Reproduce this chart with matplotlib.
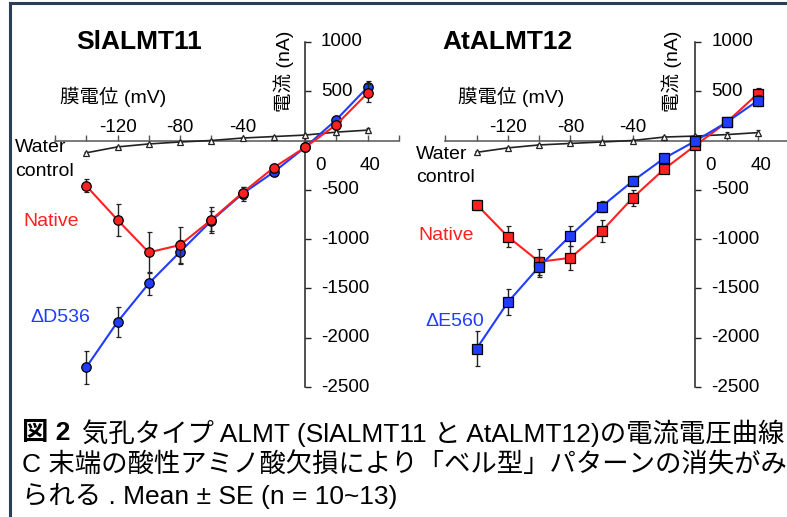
import matplotlib
matplotlib.use("Agg")
from matplotlib import pyplot as plt
from matplotlib import transforms
from matplotlib.lines import Line2D

plt.rcParams['font.family'] = ['Liberation Sans', 'Noto Sans CJK JP']

W, H = 787, 517

voltage = [-140, -120, -100, -80, -60, -40, -20, 0, 20, 40]

sl_native = [-460, -805, -1135, -1060, -805, -530, -275, -70, 160, 480]
sl_native_err = [65, 160, 210, 180, 130, 60, 40, 30, 40, 90]
sl_d536 = [-2300, -1840, -1450, -1130, -815, -540, -320, -70, 210, 540]
sl_d536_err = [170, 150, 120, 120, 100, 70, 40, 30, 40, 60]
sl_water = [-125, -65, -35, -15, 0, 25, 40, 55, 85, 105]
sl_water_err = [10, 10, 10, 10, 10, 10, 10, 10, 25, 25]

at_native = [-650, -975, -1230, -1190, -920, -580, -290, -50, 185, 475]
at_native_err = [50, 110, 130, 120, 110, 80, 40, 30, 30, 60]
at_e560 = [-2110, -1640, -1280, -965, -670, -410, -180, -5, 185, 405]
at_e560_err = [180, 130, 100, 100, 60, 50, 30, 30, 30, 60]
at_water = [-120, -75, -45, -30, -15, 0, 35, 45, 60, 80]
at_water_err = [10, 10, 10, 10, 10, 10, 10, 10, 25, 25]

x_ticks = list(range(-160, 61, 20))
x_labels_up = [-120, -80, -40]
x_labels_down = [0, 40]
y_ticks = [1000, 500, 0, -500, -1000, -1500, -2000, -2500]

RED = '#ff2020'
BLUE = '#1f3cff'

fig = plt.figure(figsize=(W / 100, H / 100), dpi=100)

# pixel mapping: 20 mV = 31.25 px, 500 nA = 49.3 px
PX_MV = 1.5625
PX_NA = 0.0986
XLIM = (-190, 60)
YLIM = (-2600, 1250)


def make_axes(x_m160, y0):
    left = x_m160 + (XLIM[0] + 160) * PX_MV
    right = x_m160 + (XLIM[1] + 160) * PX_MV
    top = y0 - YLIM[1] * PX_NA
    bottom = y0 - YLIM[0] * PX_NA
    ax = fig.add_axes([left / W, 1 - bottom / H, (right - left) / W, (bottom - top) / H])
    ax.set_xlim(*XLIM)
    ax.set_ylim(*YLIM)
    ax.patch.set_visible(False)
    for s in ['top', 'right']:
        ax.spines[s].set_visible(False)
    ax.spines['left'].set_position(('data', 0))
    ax.spines['bottom'].set_position(('data', 0))
    ax.spines['left'].set_bounds(-2500, 1000)
    ax.spines['bottom'].set_bounds(-160, 60)
    ax.spines['left'].set_color('#222222')
    ax.spines['bottom'].set_color('#555555')
    ax.spines['left'].set_linewidth(1.1)
    ax.spines['bottom'].set_linewidth(1.1)
    ax.set_xticks(x_ticks)
    ax.set_yticks(y_ticks)
    ax.tick_params(axis='x', direction='in', length=4.5, width=1.0, color='#555555',
                   labelbottom=False)
    ax.tick_params(axis='y', direction='in', length=4, width=1.0, color='#222222',
                   labelleft=False)
    off = lambda dx, dy: transforms.offset_copy(ax.transData, fig=fig, x=dx, y=dy, units='dots')
    for v in x_labels_up:
        ax.text(v, 0, str(v), transform=off(0, 13), ha='center', va='center', fontsize=13.5)
    for v in x_labels_down:
        dx = 15 if v == 0 else 3
        ax.text(v, 0, str(v), transform=off(dx, -25), ha='center', va='center', fontsize=13.5)
    for v in y_ticks:
        if v == 0:
            continue
        ax.text(0, v, str(v), transform=off(16, 0), ha='left', va='center', fontsize=13.5)
    return ax


def plot_series(ax, y, err, color, marker, ms, z):
    ax.errorbar(voltage, y, yerr=err, color=color, lw=1.5, marker=marker, ms=ms,
                mfc=color, mec='black', mew=0.9, ecolor='#222222', elinewidth=1.0,
                capsize=1.8, capthick=1.0, zorder=z, clip_on=False)


def plot_water(ax, y, err):
    ax.errorbar(voltage, y, yerr=err, color='#222222', lw=1.2, marker='^', ms=5,
                mfc='white', mec='#222222', mew=0.9, ecolor='#222222', elinewidth=0.8,
                capsize=1.5, zorder=3, clip_on=False)


def ftext(px, py, s, **kw):
    return fig.text(px / W, 1 - py / H, s, **kw)


# left panel
ax1 = make_axes(55, 140.5)
plot_water(ax1, sl_water, sl_water_err)
plot_series(ax1, sl_d536, sl_d536_err, BLUE, 'o', 6.8, 4)
plot_series(ax1, sl_native, sl_native_err, RED, 'o', 6.8, 5)

# right panel
ax2 = make_axes(445.4, 140.5)
plot_water(ax2, at_water, at_water_err)
plot_series(ax2, at_native, at_native_err, RED, 's', 6.5, 4)
plot_series(ax2, at_e560, at_e560_err, BLUE, 's', 6.5, 5)

# panel texts
ftext(139, 42, 'SlALMT11', ha='center', va='center', fontsize=19, fontweight='bold')
ftext(507, 42, 'AtALMT12', ha='center', va='center', fontsize=19, fontweight='bold')
ftext(60, 97, '膜電位 (mV)', ha='left', va='center', fontsize=14)
ftext(458, 97, '膜電位 (mV)', ha='left', va='center', fontsize=14)
ftext(284, 71, '電流 (nA)', ha='center', va='center', fontsize=14, rotation=90)
ftext(672, 71, '電流 (nA)', ha='center', va='center', fontsize=14, rotation=90)
ftext(15, 148, 'Water', ha='left', va='center', fontsize=14)
ftext(15, 172, 'control', ha='left', va='center', fontsize=14)
ftext(416, 155, 'Water', ha='left', va='center', fontsize=14)
ftext(416, 178, 'control', ha='left', va='center', fontsize=14)
ftext(23, 221, 'Native', ha='left', va='center', fontsize=14, color=RED)
ftext(418, 235, 'Native', ha='left', va='center', fontsize=14, color=RED)
ftext(30, 318, 'ΔD536', ha='left', va='center', fontsize=14, color=BLUE)
ftext(425, 322, 'ΔE560', ha='left', va='center', fontsize=14, color=BLUE)

# caption
ftext(22, 433, '図 2', ha='left', va='center', fontsize=19, fontweight='bold')
ftext(82, 433, '気孔タイプ ALMT (SlALMT11 と AtALMT12)の電流電圧曲線', ha='left', va='center', fontsize=19)
ftext(22, 465, 'C 末端の酸性アミノ酸欠損により「ベル型」パターンの消失がみ', ha='left', va='center', fontsize=19)
ftext(22, 496, 'られる . Mean ± SE (n = 10~13)', ha='left', va='center', fontsize=19)

# frame
frame = '#2c3e55'
fig.add_artist(Line2D([10 / W, 1], [1 - 3 / H, 1 - 3 / H], transform=fig.transFigure, color=frame, lw=2.2))
fig.add_artist(Line2D([10 / W, 10 / W], [1 - 3 / H, 0], transform=fig.transFigure, color=frame, lw=2.2))

fig.savefig('out.png', dpi=100)
